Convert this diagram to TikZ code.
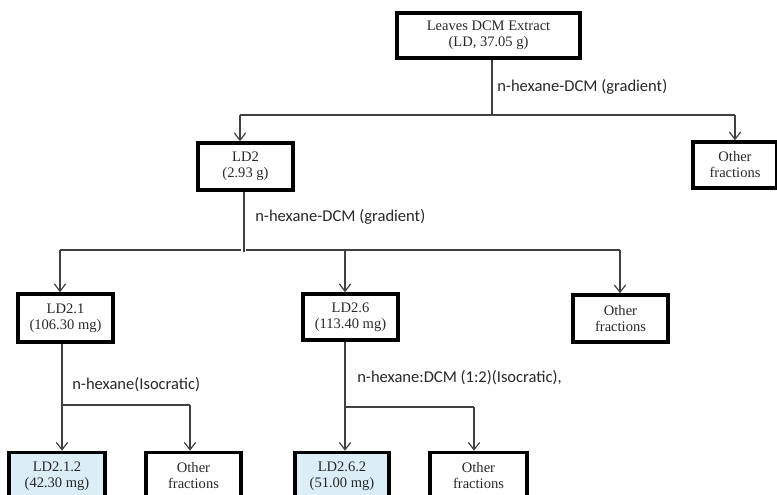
\documentclass[tikz,border=0pt]{standalone}
\usepackage{fontspec}
\setmainfont{Liberation Serif}
\newfontfamily\labfont{Carlito}
\usetikzlibrary{arrows.meta}
\definecolor{boxblue}{RGB}{219,238,245}
\definecolor{linegray}{RGB}{64,64,64}
\definecolor{txtgray}{RGB}{40,40,40}
\begin{document}
\begin{tikzpicture}[x=0.75pt,y=-0.75pt,
  fbox/.style={draw=black,line width=2.7pt,rectangle,inner sep=0pt,align=center,
    font=\fontsize{10.9}{12}\selectfont,text=txtgray},
  hbox/.style={fbox,fill=boxblue},
  bw/.style={minimum width=#1*0.75pt},
  bh/.style={minimum height=#1*0.75pt},
  conn/.style={draw=linegray,line width=0.9pt},
  arr/.style={conn,-{Straight Barb[length=5.5pt,width=8.5pt]}},
  lab/.style={anchor=west,inner sep=0pt,font=\labfont\fontsize{12.4}{14}\selectfont,text=txtgray}]
\useasboundingbox (0,0) rectangle (777,495);
\clip (0,0) rectangle (777,495);
% boxes
\node[fbox,bw=183,bh=45] (top) at (488.5,35.5) {Leaves DCM Extract\\(LD, 37.05 g)};
\node[fbox,bw=95,bh=47] (ld2) at (245.5,166.5) {LD2\\(2.93 g)};
\node[fbox,bw=84,bh=46] (oth1) at (735,165) {Other\\fractions};
\node[fbox,bw=95,bh=48] (ld21) at (65.5,318) {LD2.1\\(106.30 mg)};
\node[fbox,bw=95,bh=46] (ld26) at (350.5,317) {LD2.6\\(113.40 mg)};
\node[fbox,bw=95,bh=47] (oth2) at (620.5,318.5) {Other\\fractions};
\node[hbox,bw=96,bh=47] (ld212) at (57,476) {LD2.1.2\\(42.30 mg)};
\node[fbox,bw=95,bh=47] (oth3) at (193.5,476) {Other\\fractions};
\node[hbox,bw=94,bh=47] (ld262) at (342,476) {LD2.6.2\\(51.00 mg)};
\node[fbox,bw=97,bh=47] (oth4) at (478.5,476) {Other\\fractions};
% labels
\node[lab] (lab1) at (497,87) {n-hexane-DCM (gradient)};
\node[lab] (lab2) at (255,217) {n-hexane-DCM (gradient)};
\node[lab] (lab3) at (72,385) {n-hexane(Isocratic)};
\node[lab] (lab4) at (357,378) {n-hexane:DCM (1:2)(Isocratic),};
% level 1
\coordinate (j1) at (492,115);
\coordinate (h1l) at (240,115);
\coordinate (h1r) at (735,115);
\draw[conn] (top.south -| j1) -- (j1);
\draw[conn] (h1l) -- (h1r);
\draw[arr] (h1l) -- (h1l |- ld2.north);
\draw[arr] (h1r) -- (h1r |- oth1.north);
% level 2
\coordinate (j2) at (244,252);
\coordinate (h2l) at (60,250);
\coordinate (g1) at (241,250);
\coordinate (g2) at (246,250);
\coordinate (h2m) at (345,250);
\coordinate (h2r) at (620,250);
\draw[conn] (ld2.south -| j2) -- (j2);
\draw[conn] (h2l) -- (g1);
\draw[conn] (g2) -- (h2r);
\draw[arr] (h2l) -- (h2l |- ld21.north);
\draw[arr] (h2m) -- (h2m |- ld26.north);
\draw[arr] (h2r) -- (h2r |- oth2.north);
% level 3 left
\coordinate (j3) at (62,405);
\coordinate (h3r) at (190,405);
\draw[conn] (ld21.south -| j3) -- (j3) -- (h3r);
\draw[arr] (j3) -- (j3 |- ld212.north);
\draw[arr] (h3r) -- (h3r |- oth3.north);
% level 3 right
\coordinate (j4) at (345,407);
\coordinate (h4r) at (474,407);
\draw[conn] (ld26.south -| j4) -- (j4) -- (h4r);
\draw[arr] (j4) -- (j4 |- ld262.north);
\draw[arr] (h4r) -- (h4r |- oth4.north);
\end{tikzpicture}
\end{document}
